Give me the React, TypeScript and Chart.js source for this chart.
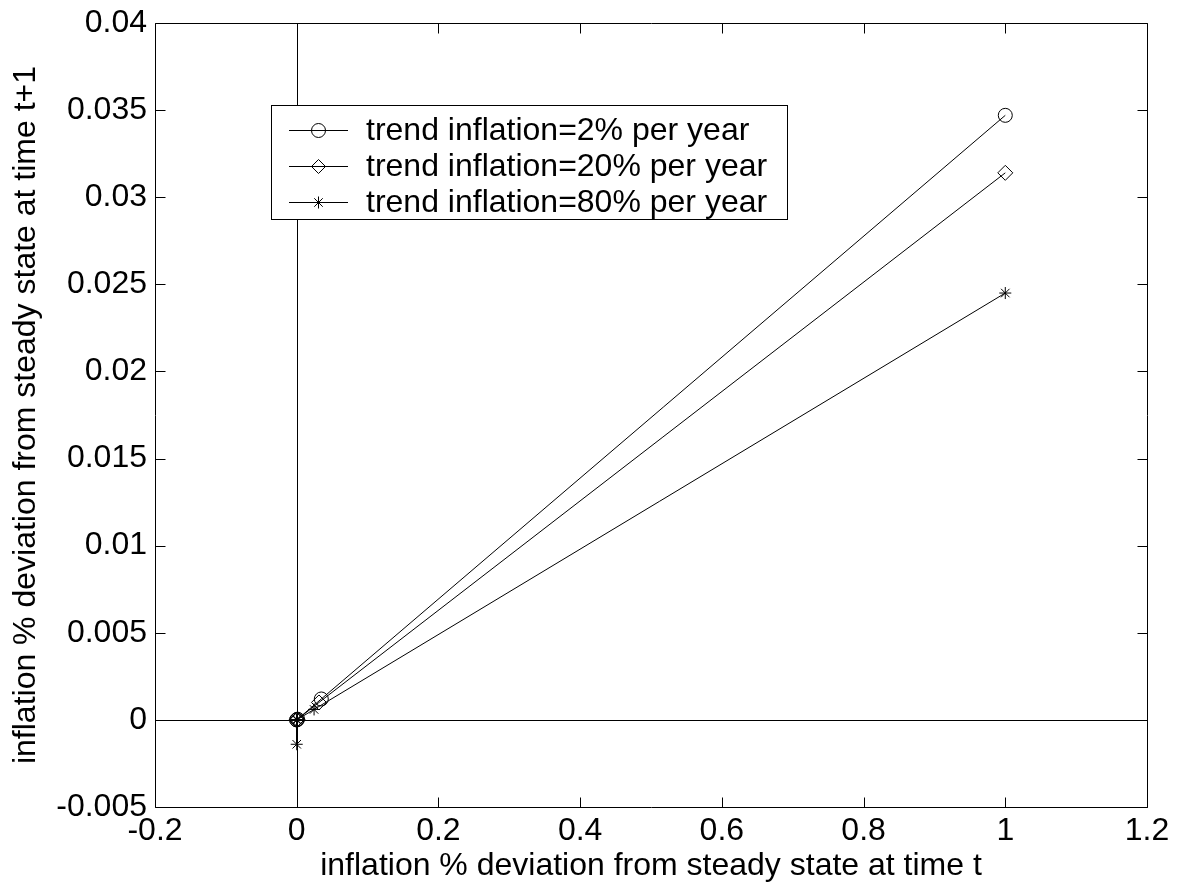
import React, { useEffect, useRef } from "react";
import { Chart, registerables } from "chart.js";

Chart.register(...registerables);

// ---- data ----
const seriesLabels = [
  "trend inflation=2% per year",
  "trend inflation=20% per year",
  "trend inflation=80% per year",
];
const markerStyles = ["circle", "rectRot", "star"];

const s1x = [1, 0.0347, 0.0012, 0.00004, 0];
const s1y = [0.0347, 0.0012, 0.00004, 0.0, 0.0];

const s2x = [1, 0.0314, 0.001, 0.00003, 0];
const s2y = [0.0314, 0.001, 0.00003, 0.0, 0.0];

const s3x = [1, 0.0245, 0.0006, 0.00001, 0, 0];
const s3y = [0.0245, 0.0006, 0.00001, 0.0, 0.0, -0.0014];

const xMin = -0.2;
const xMax = 1.2;
const xStep = 0.2;
const yMin = -0.005;
const yMax = 0.04;
const yStep = 0.005;

const xTitle = "inflation % deviation from steady state at time t";
const yTitle = "inflation % deviation from steady state at time t+1";

const FONT = "'Liberation Sans', Arial, Helvetica, sans-serif";
const FS = 32;

function fmt(v: number): string {
  return parseFloat(Number(v).toFixed(6)).toString();
}

function drawMarker(ctx: CanvasRenderingContext2D, style: string, x: number, y: number, r: number) {
  ctx.beginPath();
  if (style === "circle") {
    ctx.arc(x, y, r, 0, Math.PI * 2);
  } else if (style === "rectRot") {
    ctx.moveTo(x, y - r);
    ctx.lineTo(x + r, y);
    ctx.lineTo(x, y + r);
    ctx.lineTo(x - r, y);
    ctx.closePath();
  } else {
    ctx.moveTo(x - r, y);
    ctx.lineTo(x + r, y);
    ctx.moveTo(x, y - r);
    ctx.lineTo(x, y + r);
    const d = r * Math.SQRT1_2;
    ctx.moveTo(x - d, y - d);
    ctx.lineTo(x + d, y + d);
    ctx.moveTo(x - d, y + d);
    ctx.lineTo(x + d, y - d);
  }
  ctx.stroke();
}

const framePlugin = {
  id: "matlabFrame",
  beforeDatasetsDraw(chart: any) {
    const { ctx, chartArea: a, scales } = chart;
    const x0 = Math.round(scales.x.getPixelForValue(0)) + 0.5;
    const y0 = Math.round(scales.y.getPixelForValue(0)) + 0.5;
    ctx.save();
    ctx.strokeStyle = "#000";
    ctx.lineWidth = 1;
    ctx.beginPath();
    ctx.moveTo(x0, a.top);
    ctx.lineTo(x0, a.bottom);
    ctx.moveTo(a.left, y0);
    ctx.lineTo(a.right, y0);
    ctx.stroke();
    ctx.restore();
  },
  afterDatasetsDraw(chart: any) {
    const { ctx, chartArea: a, scales } = chart;
    const L = Math.round(a.left) + 0.5;
    const R = Math.round(a.right) + 0.5;
    const T = Math.round(a.top) + 0.5;
    const B = Math.round(a.bottom) + 0.5;
    const tl = 10;
    ctx.save();
    ctx.strokeStyle = "#000";
    ctx.lineWidth = 1;
    ctx.beginPath();
    ctx.rect(L, T, R - L, B - T);
    for (const t of scales.x.ticks) {
      const px = Math.round(scales.x.getPixelForValue(t.value)) + 0.5;
      ctx.moveTo(px, B);
      ctx.lineTo(px, B - tl);
      ctx.moveTo(px, T);
      ctx.lineTo(px, T + tl);
    }
    for (const t of scales.y.ticks) {
      const py = Math.round(scales.y.getPixelForValue(t.value)) + 0.5;
      ctx.moveTo(L, py);
      ctx.lineTo(L + tl, py);
      ctx.moveTo(R, py);
      ctx.lineTo(R - tl, py);
    }
    ctx.stroke();
    ctx.restore();
  },
  afterDraw(chart: any) {
    const { ctx } = chart;
    const box = { x: 271.5, y: 105.5, w: 516, h: 114 };
    ctx.save();
    ctx.fillStyle = "#fff";
    ctx.strokeStyle = "#000";
    ctx.lineWidth = 1;
    ctx.fillRect(box.x, box.y, box.w, box.h);
    ctx.strokeRect(box.x, box.y, box.w, box.h);
    const rows = [130, 166, 202];
    ctx.font = `${FS}px ${FONT}`;
    ctx.textBaseline = "middle";
    ctx.textAlign = "left";
    ctx.fillStyle = "#000";
    seriesLabels.forEach((lab, i) => {
      const y = rows[i] + 0.5;
      ctx.beginPath();
      ctx.moveTo(289, y);
      ctx.lineTo(348, y);
      ctx.stroke();
      drawMarker(ctx, markerStyles[i], 318.5, y, i === 2 ? 6 : 7);
      ctx.fillText(lab, 366, rows[i] + 1);
    });
    ctx.restore();
  },
};

function toPoints(xs: number[], ys: number[]) {
  return xs.map((x, i) => ({ x, y: ys[i] }));
}

export default function App() {
  const ref = useRef<HTMLCanvasElement | null>(null);

  useEffect(() => {
    document.body.style.margin = "0";
    const canvas = ref.current;
    if (!canvas) return;
    Chart.defaults.font.family = FONT;
    Chart.defaults.color = "#000";

    const series = [
      { xs: s1x, ys: s1y, r: 7 },
      { xs: s2x, ys: s2y, r: 7.5 },
      { xs: s3x, ys: s3y, r: 6 },
    ];

    const chart = new Chart(canvas, {
      type: "scatter",
      data: {
        datasets: series.map((s, i) => ({
          label: seriesLabels[i],
          data: toPoints(s.xs, s.ys),
          showLine: true,
          borderColor: "#000",
          borderWidth: 1,
          pointStyle: markerStyles[i] as any,
          pointRadius: s.r,
          pointBorderColor: "#000",
          pointBackgroundColor: "rgba(0,0,0,0)",
          pointBorderWidth: 1,
          fill: false,
          tension: 0,
        })),
      },
      options: {
        animation: false,
        responsive: false,
        devicePixelRatio: 1,
        layout: { padding: { top: 23, right: 31, left: 0, bottom: 0 } },
        plugins: {
          legend: { display: false },
          tooltip: { enabled: false },
        },
        scales: {
          x: {
            type: "linear",
            min: xMin,
            max: xMax,
            ticks: {
              stepSize: xStep,
              font: { size: FS, family: FONT },
              color: "#000",
              padding: 5,
              maxRotation: 0,
              autoSkip: false,
              callback: (v: any) => fmt(v),
            },
            grid: { display: false, drawTicks: false },
            border: { display: false },
            title: {
              display: true,
              text: xTitle,
              font: { size: FS, family: FONT },
              color: "#000",
              padding: { top: 0, bottom: 4 },
            },
            afterFit: (scale: any) => {
              scale.height = 82;
              scale.paddingLeft = 0;
              scale.paddingRight = 0;
            },
          },
          y: {
            type: "linear",
            min: yMin,
            max: yMax,
            ticks: {
              stepSize: yStep,
              font: { size: FS, family: FONT },
              color: "#000",
              padding: 8,
              autoSkip: false,
              callback: (v: any) => fmt(v),
            },
            grid: { display: false, drawTicks: false },
            border: { display: false },
            title: {
              display: true,
              text: yTitle,
              font: { size: FS, family: FONT },
              color: "#000",
              padding: { top: 7, bottom: 0 },
            },
            afterFit: (scale: any) => {
              scale.width = 155;
              scale.paddingTop = 0;
              scale.paddingBottom = 0;
            },
          },
        },
      },
      plugins: [framePlugin],
    } as any);

    return () => chart.destroy();
  }, []);

  return (
    <div style={{ width: 1178, height: 889, background: "#fff" }}>
      <canvas ref={ref} width={1178} height={889} style={{ display: "block" }} />
    </div>
  );
}
